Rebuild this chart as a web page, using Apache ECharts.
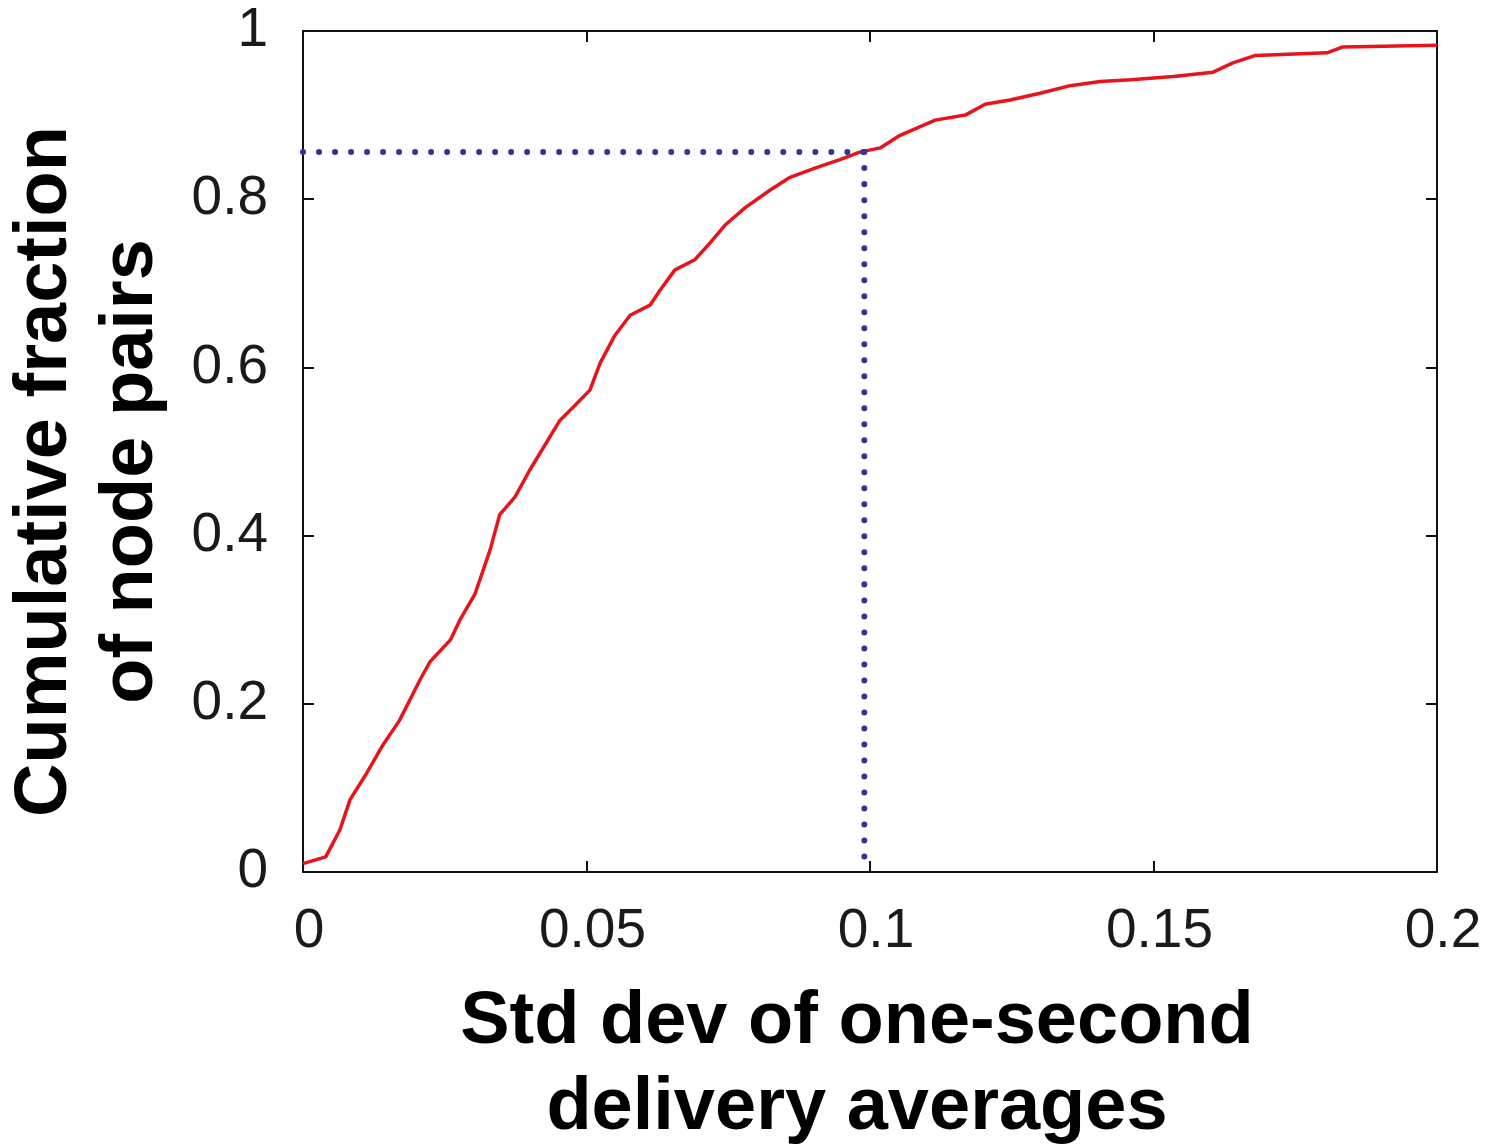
<!DOCTYPE html>
<html>
<head>
<meta charset="utf-8">
<script src="https://cdn.jsdelivr.net/npm/echarts@6/dist/echarts.min.js"></script>
<style>
html,body{margin:0;padding:0;background:#fff;}
#c{width:1490px;height:1146px;}
</style>
</head>
<body>
<div id="c"></div>
<script>
const xTicks = [0, 0.05, 0.1, 0.15, 0.2];
const yTicks = [0, 0.2, 0.4, 0.6, 0.8, 1];
const cdfX = [0, 0.004, 0.0065, 0.0083, 0.011, 0.014, 0.017, 0.0206, 0.0224, 0.026, 0.0277, 0.0303, 0.033, 0.0347, 0.0374, 0.040, 0.0427, 0.0453, 0.048, 0.0506, 0.0524, 0.055, 0.0577, 0.0612, 0.063, 0.0656, 0.0691, 0.0718, 0.0744, 0.078, 0.0824, 0.0859, 0.0903, 0.0947, 0.0982, 0.1018, 0.1053, 0.1115, 0.1168, 0.1203, 0.1247, 0.13, 0.1353, 0.1406, 0.146, 0.1535, 0.1605, 0.164, 0.168, 0.1806, 0.1834, 0.2];
const cdfY = [0.01, 0.018, 0.05, 0.086, 0.115, 0.15, 0.18, 0.228, 0.25, 0.276, 0.30, 0.33, 0.383, 0.425, 0.446, 0.478, 0.508, 0.537, 0.555, 0.573, 0.605, 0.638, 0.662, 0.674, 0.692, 0.716, 0.728, 0.748, 0.769, 0.79, 0.811, 0.826, 0.837, 0.847, 0.856, 0.861, 0.876, 0.894, 0.90, 0.913, 0.918, 0.926, 0.935, 0.940, 0.942, 0.946, 0.951, 0.962, 0.971, 0.974, 0.981, 0.983];
const refX = 0.099;
const refY = 0.856;

const chart = echarts.init(document.getElementById('c'), null, {renderer: 'canvas'});
const labelFont = {fontFamily: 'Liberation Sans', fontSize: 55, color: '#1a1a1a'};
const titleFont = {fontFamily: 'Liberation Sans', fontSize: 74, fontWeight: 'bold', color: '#000', lineHeight: 86};
const tick = {show: true, inside: true, length: 11, lineStyle: {color: '#111', width: 2}};
const axisLine = {show: true, onZero: false, lineStyle: {color: '#111', width: 2}};

chart.setOption({
  animation: false,
  backgroundColor: '#fff',
  grid: {left: 303, right: 53, top: 31, bottom: 274, show: false, containLabel: false, outerBoundsMode: 'none'},
  xAxis: [{
    type: 'value', min: 0, max: 0.2, interval: 0.05, position: 'bottom',
    axisLine: axisLine, axisTick: tick, splitLine: {show: false},
    axisLabel: Object.assign({margin: 32, padding: [0, 0, 0, 12], formatter: v => String(+v.toFixed(2))}, labelFont),
    name: 'Std dev of one-second\ndelivery averages', nameLocation: 'middle', nameGap: 108,
    nameTextStyle: Object.assign({padding: [0, 26, 0, 0]}, titleFont)
  }, {
    type: 'value', min: 0, max: 0.2, interval: 0.05, position: 'top',
    axisLine: axisLine, axisTick: tick, splitLine: {show: false}, axisLabel: {show: false}
  }],
  yAxis: [{
    type: 'value', min: 0, max: 1, interval: 0.2, position: 'left',
    axisLine: axisLine, axisTick: tick, splitLine: {show: false},
    axisLabel: Object.assign({margin: 35, formatter: v => String(+v.toFixed(1))}, labelFont),
    name: 'Cumulative fraction\nof node pairs', nameLocation: 'middle', nameGap: 128,
    nameTextStyle: Object.assign({padding: [0, 40, 0, 0]}, titleFont)
  }, {
    type: 'value', min: 0, max: 1, interval: 0.2, position: 'right',
    axisLine: axisLine, axisTick: tick, splitLine: {show: false}, axisLabel: {show: false}
  }],
  series: [{
    type: 'line', name: 'CDF', showSymbol: false,
    data: cdfX.map((x, i) => [x, cdfY[i]]),
    lineStyle: {color: '#e8141c', width: 3.5}, z: 3
  }, {
    type: 'line', name: 'ref-h', showSymbol: false,
    data: [[0, refY], [refX, refY]],
    lineStyle: {color: '#333399', width: 6, type: [0.01, 16], cap: 'round'}, z: 4
  }, {
    type: 'line', name: 'ref-v', showSymbol: false,
    data: [[refX, refY], [refX, 0]],
    lineStyle: {color: '#333399', width: 6, type: [0.01, 16], cap: 'round'}, z: 4
  }]
});
</script>
</body>
</html>
